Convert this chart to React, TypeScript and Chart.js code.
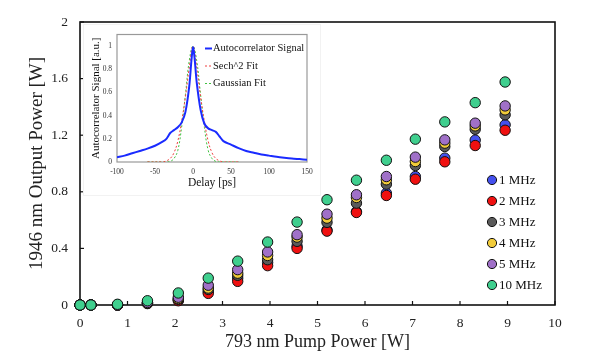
import React, { useEffect, useRef } from "react";
import { Chart, registerables } from "chart.js";

Chart.register(...registerables);

const FONT = "'Liberation Serif', 'DejaVu Serif', serif";

// Main chart data
const pumpPower = [0, 0.23, 0.79, 1.42, 2.07, 2.7, 3.32, 3.95, 4.57, 5.2, 5.82, 6.45, 7.06, 7.68, 8.32, 8.95];
const out1MHz = [0, 0, 0, 0.015, 0.035, 0.095, 0.19, 0.3, 0.415, 0.53, 0.66, 0.79, 0.908, 1.038, 1.165, 1.273];
const out2MHz = [0, 0, 0, 0.01, 0.03, 0.082, 0.167, 0.278, 0.4, 0.522, 0.654, 0.774, 0.889, 1.012, 1.127, 1.235];
const out3MHz = [0, 0, 0, 0.012, 0.04, 0.11, 0.21, 0.32, 0.45, 0.584, 0.72, 0.854, 0.986, 1.12, 1.242, 1.344];
const out4MHz = [0, 0, 0, 0.015, 0.045, 0.12, 0.225, 0.35, 0.48, 0.614, 0.76, 0.885, 1.014, 1.144, 1.266, 1.379];
const out5MHz = [0, 0, 0, 0.018, 0.055, 0.14, 0.25, 0.375, 0.497, 0.642, 0.779, 0.908, 1.045, 1.167, 1.285, 1.407];
const out10MHz = [0, 0, 0.005, 0.03, 0.085, 0.19, 0.31, 0.445, 0.586, 0.744, 0.882, 1.023, 1.172, 1.294, 1.43, 1.576];
const seriesLabels = ["1 MHz", "2 MHz", "3 MHz", "4 MHz", "5 MHz", "10 MHz"];
const seriesValues = [out1MHz, out2MHz, out3MHz, out4MHz, out5MHz, out10MHz];
const seriesColors = ["#4450ee", "#f01010", "#5a5a5a", "#f2cc3a", "#a070c8", "#3fcf8e"];

// Inset data
const delayPs = [-100, -90, -80, -70, -60, -50, -40, -35, -30, -25, -20, -15, -10, -5, -2, 0, 2, 5, 10, 15, 20, 25, 30, 35, 40, 50, 60, 70, 80, 90, 100, 110, 120, 130, 140, 150];
const autocorrSignal = [0.04, 0.055, 0.075, 0.095, 0.115, 0.14, 0.175, 0.2, 0.25, 0.275, 0.3, 0.34, 0.43, 0.65, 0.88, 0.99, 0.9, 0.68, 0.45, 0.33, 0.29, 0.275, 0.26, 0.22, 0.18, 0.15, 0.12, 0.095, 0.08, 0.065, 0.055, 0.045, 0.037, 0.03, 0.025, 0.02];
const fitDelayPs = [-60, -40, -35, -30, -25, -20, -15, -10, -5, 0, 5, 10, 15, 20, 25, 30, 35, 40, 60];
const sech2Fit = [0, 0, 0.01, 0.03, 0.08, 0.18, 0.35, 0.56, 0.81, 1.0, 0.81, 0.56, 0.35, 0.18, 0.08, 0.03, 0.01, 0, 0];
const gaussianFit = [0, 0, 0, 0.005, 0.03, 0.1, 0.3, 0.58, 0.87, 1.0, 0.87, 0.58, 0.3, 0.1, 0.03, 0.005, 0, 0, 0];
const insetLegend = ["Autocorrelator Signal", "Sech^2 Fit", "Gaussian Fit"];
const insetColors = ["#1a2bff", "#f04040", "#40c040"];

const mainFrame = {
  id: "mainFrame",
  beforeDatasetsDraw(chart: any) {
    const { ctx, chartArea: a, scales } = chart;
    ctx.save();
    ctx.strokeStyle = "#111";
    ctx.lineWidth = 1.6;
    ctx.strokeRect(a.left, a.top, a.right - a.left, a.bottom - a.top);
    ctx.lineWidth = 1.2;
    scales.x.ticks.forEach((t: any) => {
      const px = scales.x.getPixelForValue(t.value);
      ctx.beginPath();
      ctx.moveTo(px, a.bottom);
      ctx.lineTo(px, a.bottom - 4);
      ctx.stroke();
    });
    scales.y.ticks.forEach((t: any) => {
      const py = scales.y.getPixelForValue(t.value);
      ctx.beginPath();
      ctx.moveTo(a.left, py);
      ctx.lineTo(a.left + 4, py);
      ctx.stroke();
    });
    ctx.restore();
  },
  afterDraw(chart: any) {
    const { ctx, chartArea: a } = chart;
    ctx.save();
    ctx.font = `13px ${FONT}`;
    ctx.textBaseline = "middle";
    seriesLabels.forEach((lab, i) => {
      const cx = a.right - 63;
      const cy = a.top + 158 + i * 21;
      ctx.beginPath();
      ctx.arc(cx, cy, 4.6, 0, Math.PI * 2);
      ctx.fillStyle = seriesColors[i];
      ctx.fill();
      ctx.strokeStyle = "#111";
      ctx.lineWidth = 1;
      ctx.stroke();
      ctx.fillStyle = "#111";
      ctx.fillText(lab, cx + 7, cy + 1);
    });
    ctx.restore();
  },
};

const insetFrame = {
  id: "insetFrame",
  beforeDatasetsDraw(chart: any) {
    const { ctx, chartArea: a } = chart;
    ctx.save();
    ctx.strokeStyle = "#999";
    ctx.lineWidth = 1.2;
    ctx.strokeRect(a.left, a.top, a.right - a.left, a.bottom - a.top);
    ctx.restore();
  },
  afterDraw(chart: any) {
    const { ctx, chartArea: a } = chart;
    ctx.save();
    ctx.font = `10.5px ${FONT}`;
    ctx.textBaseline = "middle";
    insetLegend.forEach((lab, i) => {
      const x0 = a.left + 88;
      const y0 = a.top + 14 + i * 17.5;
      ctx.beginPath();
      ctx.strokeStyle = insetColors[i];
      ctx.lineWidth = i === 0 ? 2 : 1;
      ctx.setLineDash(i === 0 ? [] : [2, 2]);
      ctx.moveTo(x0, y0);
      ctx.lineTo(x0 + 7, y0);
      ctx.stroke();
      ctx.setLineDash([]);
      ctx.fillStyle = "#111";
      ctx.fillText(lab, x0 + 8, y0);
    });
    ctx.restore();
  },
};

function MainChart() {
  const ref = useRef<HTMLCanvasElement | null>(null);
  useEffect(() => {
    if (!ref.current) return;
    const chart = new Chart(ref.current, {
      type: "scatter",
      data: {
        datasets: seriesValues.map((vals, i) => ({
          label: seriesLabels[i],
          data: pumpPower.map((x, j) => ({ x, y: vals[j] })),
          backgroundColor: seriesColors[i],
          borderColor: "#111",
          borderWidth: 1,
          pointRadius: 5.2,
          clip: false as any,
          order: 10 - i,
        })),
      },
      options: {
        animation: false,
        responsive: false,
        devicePixelRatio: 1,
        layout: { padding: { top: 22, right: 45, left: 0, bottom: 0 } },
        plugins: { legend: { display: false }, tooltip: { enabled: false } },
        scales: {
          x: {
            type: "linear",
            min: 0,
            max: 10,
            ticks: { stepSize: 1, font: { family: FONT, size: 13.5 }, color: "#222", padding: 10, maxRotation: 0 },
            grid: { display: false, drawTicks: false },
            border: { display: false },
            title: { display: true, text: "793 nm Pump Power [W]", font: { family: FONT, size: 18 }, color: "#222", padding: { top: 0, bottom: 5 } },
            afterFit: (s: any) => { s.height = 53; },
          },
          y: {
            type: "linear",
            min: 0,
            max: 2,
            ticks: { stepSize: 0.4, font: { family: FONT, size: 13.5 }, color: "#222", padding: 12, callback: (v: any) => String(Number(Number(v).toFixed(1))) },
            grid: { display: false, drawTicks: false },
            border: { display: false },
            title: { display: true, text: "1946 nm Output Power [W]", font: { family: FONT, size: 19 }, color: "#222", padding: { top: 26, bottom: 0 } },
            afterFit: (s: any) => { s.width = 80; },
          },
        },
      },
      plugins: [mainFrame],
    } as any);
    return () => chart.destroy();
  }, []);
  return <canvas ref={ref} width={600} height={358} style={{ position: "absolute", left: 0, top: 0, width: 600, height: 358 }} />;
}

function InsetChart() {
  const ref = useRef<HTMLCanvasElement | null>(null);
  useEffect(() => {
    if (!ref.current) return;
    const chart = new Chart(ref.current, {
      type: "line",
      data: {
        datasets: [
          {
            label: insetLegend[0],
            data: delayPs.map((x, j) => ({ x, y: autocorrSignal[j] })),
            borderColor: insetColors[0],
            borderWidth: 2,
            pointRadius: 0,
            tension: 0.3,
            order: 0,
          },
          {
            label: insetLegend[1],
            data: fitDelayPs.map((x, j) => ({ x, y: sech2Fit[j] })),
            borderColor: insetColors[1],
            borderWidth: 1,
            borderDash: [2, 2],
            pointRadius: 0,
            tension: 0.4,
            order: 1,
          },
          {
            label: insetLegend[2],
            data: fitDelayPs.map((x, j) => ({ x, y: gaussianFit[j] })),
            borderColor: insetColors[2],
            borderWidth: 1,
            borderDash: [2, 2],
            pointRadius: 0,
            tension: 0.4,
            order: 2,
          },
        ],
      },
      options: {
        animation: false,
        responsive: false,
        devicePixelRatio: 1,
        layout: { padding: { top: 5, right: 13, left: 0, bottom: 0 } },
        plugins: { legend: { display: false }, tooltip: { enabled: false } },
        scales: {
          x: {
            type: "linear",
            min: -100,
            max: 150,
            ticks: { stepSize: 50, font: { family: FONT, size: 7.5 }, color: "#333", padding: 6, maxRotation: 0 },
            grid: { display: false, drawTicks: false },
            border: { display: false },
            title: { display: true, text: "Delay [ps]", font: { family: FONT, size: 11.5 }, color: "#111", padding: { top: 0, bottom: 5 } },
            afterFit: (s: any) => { s.height = 33; },
          },
          y: {
            type: "linear",
            min: 0,
            max: 1.1,
            ticks: { stepSize: 0.2, font: { family: FONT, size: 7.5 }, color: "#333", padding: 5, callback: (v: any) => { const n = Number(Number(v).toFixed(1)); return n > 1.05 ? "" : String(n); } },
            grid: { display: false, drawTicks: false },
            border: { display: false },
            title: { display: true, text: "Autocorrelator Signal [a.u.]", font: { family: FONT, size: 11 }, color: "#111", padding: { top: 6, bottom: 0 } },
            afterFit: (s: any) => { s.width = 33; },
          },
        },
      },
      plugins: [insetFrame],
    } as any);
    return () => chart.destroy();
  }, []);
  return (
    <div style={{ position: "absolute", left: 84, top: 25, width: 236, height: 170, background: "#fff", boxShadow: "0 0 0 1px #f2f2f2" }}>
      <canvas ref={ref} width={236} height={170} style={{ width: 236, height: 170, display: "block" }} />
    </div>
  );
}

export default function App() {
  useEffect(() => {
    document.body.style.margin = "0";
  }, []);
  return (
    <div style={{ position: "fixed", left: 0, top: 0, width: 600, height: 358, background: "#fff", overflow: "hidden" }}>
      <MainChart />
      <InsetChart />
    </div>
  );
}
